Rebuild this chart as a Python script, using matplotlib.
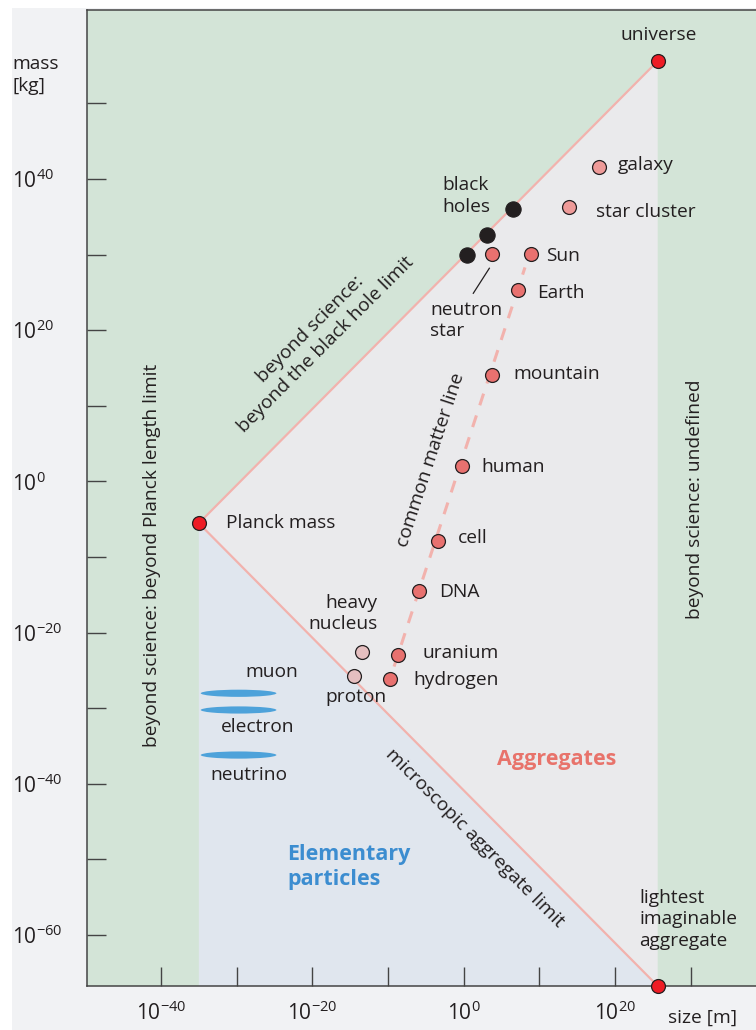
import matplotlib
matplotlib.use("Agg")
import matplotlib.pyplot as plt
from matplotlib.patches import Polygon, Ellipse, Rectangle
from matplotlib.ticker import FixedLocator, FuncFormatter

plt.rcParams['font.family'] = ['Open Sans', 'DejaVu Sans']
plt.rcParams['mathtext.default'] = 'regular'

# all values are log10 exponents: size [m], mass [kg]
limit_names = ["Planck mass", "universe", "lightest imaginable aggregate"]
limit_size = [-35.0, 25.64, 25.64]
limit_mass = [-5.54, 55.6, -66.75]

bh_size = [6.52, 3.08, 0.40]
bh_mass = [36.03, 32.55, 29.95]

obj_names = ["neutron star", "Sun", "Earth", "mountain", "human", "cell", "DNA",
             "uranium", "hydrogen"]
obj_size = [3.70, 8.86, 7.22, 3.70, -0.22, -3.39, -5.86, -8.64, -9.70]
obj_mass = [30.04, 30.04, 25.30, 14.07, 1.98, -7.85, -14.54, -22.96, -26.18]

big_names = ["galaxy", "star cluster"]
big_size = [17.84, 13.88]
big_mass = [41.60, 36.26]

nuc_names = ["heavy nucleus", "proton"]
nuc_size = [-13.48, -14.53]
nuc_mass = [-22.60, -25.80]

# elementary particles: size range unknown, drawn as flat ellipses
part_names = ["muon", "electron", "neutrino"]
part_mass = [-28.03, -30.24, -36.2]
part_size_range = [-34.75, -24.75]

common_size = [-9.2, 8.1]
common_mass = [-24.5, 28.3]

xlim = (-49.78, 38.63)
ylim = (-66.75, 62.35)

green = "#D3E4D7"
grey = "#EAEAEC"
blue_bg = "#E0E6EE"
pink = "#F2B2AD"

fig = plt.figure(figsize=(7.56, 10.30), dpi=100, facecolor="white")
fig.add_artist(Rectangle((12 / 756, 0), 1, 1 - 8 / 1030, transform=fig.transFigure,
                         facecolor="#F1F2F4", edgecolor="none", zorder=-10))
ax = fig.add_axes([87 / 756, 44 / 1030, 1 - 87 / 756, (1020 - 44) / 1030])
ax.set_facecolor(green)
ax.set_xlim(*xlim)
ax.set_ylim(*ylim)

planck = (limit_size[0], limit_mass[0])
univ = (limit_size[1], limit_mass[1])
light = (limit_size[2], limit_mass[2])
ax.add_patch(Polygon([planck, univ, light], closed=True, facecolor=grey,
                     edgecolor="none", zorder=0.5))
ax.add_patch(Polygon([planck, light, (planck[0], ylim[0])], closed=True,
                     facecolor=blue_bg, edgecolor="none", zorder=0.5))
ax.add_patch(Rectangle((univ[0], ylim[0]), xlim[1] - univ[0], ylim[1] - ylim[0],
                       facecolor=green, edgecolor="none", zorder=0.6))

ax.plot([planck[0], univ[0]], [planck[1], univ[1]], color=pink, lw=1.6, zorder=2)
ax.plot([planck[0], light[0]], [planck[1], light[1]], color=pink, lw=1.6, zorder=2)
ax.plot(common_size, common_mass, color=pink, lw=2.2, ls=(0, (4, 3.5)), zorder=2)

ms = 10
ax.plot(limit_size, limit_mass, 'o', ms=ms, mfc="#EE1C25", mec="#231F20", mew=0.9,
        zorder=5, clip_on=False)
ax.plot(bh_size, bh_mass, 'o', ms=ms + 1, mfc="#231F20", mec="#231F20", mew=0.8,
        zorder=5)
ax.plot(obj_size, obj_mass, 'o', ms=ms, mfc="#E8716F", mec="#231F20", mew=0.9,
        zorder=5)
ax.plot(big_size, big_mass, 'o', ms=ms, mfc="#EE9A98", mec="#231F20", mew=0.9,
        zorder=5)
ax.plot(nuc_size, nuc_mass, 'o', ms=ms, mfc="#E5BFC0", mec="#231F20", mew=0.9,
        zorder=5)

pw = part_size_range[1] - part_size_range[0]
pc = (part_size_range[0] + part_size_range[1]) / 2
for m in part_mass:
    ax.add_patch(Ellipse((pc, m), pw, 0.95, facecolor="#4DA2DA", edgecolor="none",
                         zorder=3))

fs = 13.8
tc = "#231F20"
def lab(x, y, s, ha="left", **kw):
    ax.text(x, y, s, ha=ha, va="center", fontsize=kw.pop("fontsize", fs),
            color=kw.pop("color", tc), zorder=6, linespacing=1.25, **kw)

lab(25.8, 59.05, "universe", ha="center")
lab(20.3, 41.85, "galaxy")
lab(17.5, 35.67, "star cluster")
lab(-2.8, 37.75, "black\nholes")
lab(10.83, 29.86, "Sun")
lab(9.64, 24.96, "Earth")
lab(-4.45, 21.3, "neutron\nstar")
ax.plot([3.39, 1.27], [28.19, 24.88], color=tc, lw=0.9, zorder=6)
lab(6.57, 14.21, "mountain")
lab(2.38, 1.94, "human")
lab(-0.83, -7.53, "cell")
lab(-3.3, -14.67, "DNA")
lab(-11.4, -17.45, "heavy\nnucleus", ha="right", multialignment="right")
lab(-5.46, -22.74, "uranium")
lab(-6.65, -26.27, "hydrogen")
lab(-14.19, -28.48, "proton", ha="center")
lab(-31.4, -5.54, "Planck mass")
lab(-25.35, -25.17, "muon", ha="center")
lab(-27.2, -32.5, "electron", ha="center")
lab(-28.4, -38.84, "neutrino", ha="center")
lab(23.2, -57.9, "lightest\nimaginable\naggregate")

lab(-41.2, -9.74, "beyond science: beyond Planck length limit", ha="center",
    rotation=90)
lab(30.57, -2.4, "beyond science: undefined", ha="center", rotation=90)
lab(-19.25, 19.1, "beyond science:\nbeyond the black hole limit", ha="center",
    rotation=45, rotation_mode="anchor")
lab(-4.32, 2.83, "common matter line", ha="center", rotation=71.8,
    rotation_mode="anchor")
lab(1.5, -47.2, "microscopic aggregate limit", ha="center", rotation=-45,
    rotation_mode="anchor")
lab(12.33, -36.85, "Aggregates", ha="center", color="#E8736B",
    fontweight="bold", fontsize=15.5)
lab(-23.35, -51.0, "Elementary\nparticles", color="#3C8DD0", fontweight="bold",
    fontsize=15.5)

# axes styling
for side in ["left", "bottom", "top"]:
    ax.spines[side].set_color("#444444")
    ax.spines[side].set_linewidth(1.1)
ax.spines["right"].set_visible(False)

major = [-60, -40, -20, 0, 20, 40]
minor = [-50, -30, -10, 10, 30, 50]
fmt = FuncFormatter(lambda v, p: "$10^{%d}$" % v)
ax.yaxis.set_major_locator(FixedLocator(major))
ax.yaxis.set_minor_locator(FixedLocator(minor))
ax.xaxis.set_major_locator(FixedLocator([-40, -20, 0, 20]))
ax.xaxis.set_minor_locator(FixedLocator([-30, -10, 10, 30]))
ax.xaxis.set_major_formatter(fmt)
ax.yaxis.set_major_formatter(fmt)
ax.tick_params(which="both", direction="in", length=14, width=1.0, color="#444444",
               labelsize=15, labelcolor=tc, top=False, right=False)
ax.tick_params(axis="y", which="major", pad=54)
ax.tick_params(axis="x", which="major", pad=11)
for t in ax.get_yticklabels():
    t.set_horizontalalignment("left")

fig.text(12 / 756, 1 - 75 / 1030, "mass\n[kg]", ha="left", va="center",
         fontsize=fs, color=tc, linespacing=1.25)
fig.text(668 / 756, 1 - 1018 / 1030, "size [m]", ha="left", va="center",
         fontsize=fs, color=tc)

fig.savefig("out.png", dpi=100, facecolor=fig.get_facecolor())
